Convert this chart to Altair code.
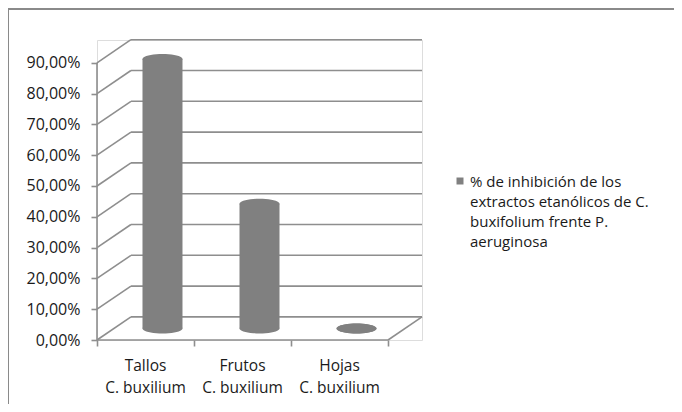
import altair as alt
import pandas as pd
import numpy as np

# ---- data ----
categories = ["Tallos", "Frutos", "Hojas"]
subtitles = ["C. buxilium", "C. buxilium", "C. buxilium"]
values = [87.5, 40.5, 0.0]          # % inhibition
y_ticks = [0, 10, 20, 30, 40, 50, 60, 70, 80, 90]
legend_text = "% de inhibición de los\nextractos etanólicos de C.\nbuxifolium frente P.\naeruginosa"

# ---- layout / style ----
PLOT_W, PLOT_H = 325, 300
N = len(categories)
DEPTH_X = 0.35      # depth offset in category units
DEPTH_Y = 7.5       # depth offset in percent units
Y_MAX = 97.4
X_MAX = N + DEPTH_X
PX_PER_UNIT = PLOT_W / X_MAX
CYL_W = 40
GRID = "#8e8e8e"
BAR = "#808080"
FONT = "Open Sans"
TXT = "#1a1a1a"
FS = 15.5

xs = alt.Scale(domain=[0, X_MAX], range=[0, PLOT_W], nice=False, zero=False)
ys = alt.Scale(domain=[0, Y_MAX], nice=False, zero=False)

Y_AX = alt.Axis(values=y_ticks, domain=False, grid=False, tickColor=GRID, tickWidth=1.6,
                tickSize=6, labelPadding=11, labelFont=FONT, labelFontSize=16,
                labelColor=TXT, title=None, labelOverlap=False, labelFlush=False,
                labelExpr="replace(format(datum.value, '.2f'), '.', ',') + '%'")
X_AX = alt.Axis(values=list(range(N + 1)), domain=False, grid=False, labels=False,
                tickColor=GRID, tickWidth=1.6, tickSize=6, title=None)

# 3D frame segments built from the tick values
segs = []
for v in y_ticks:
    segs.append(dict(x=0, y=v, x2=DEPTH_X, y2=v + DEPTH_Y))
    segs.append(dict(x=DEPTH_X, y=v + DEPTH_Y, x2=N + DEPTH_X, y2=v + DEPTH_Y))
segs.append(dict(x=0, y=0, x2=N, y2=0))
segs.append(dict(x=N, y=0, x2=N + DEPTH_X, y2=DEPTH_Y))
segs.append(dict(x=0, y=0, x2=0, y2=max(y_ticks)))
seg_df = pd.DataFrame(segs)

frame = alt.Chart(seg_df).mark_rule(color=GRID, strokeWidth=1.6).encode(
    x=alt.X("x:Q", scale=xs, axis=X_AX),
    y=alt.Y("y:Q", scale=ys, axis=Y_AX),
    x2="x2:Q", y2="y2:Q",
)

# cylinders
bar_df = pd.DataFrame({"cat": categories, "sub": subtitles, "val": values})
bar_df["i"] = range(N)
half = CYL_W / 2 / PX_PER_UNIT
base = alt.Chart(bar_df).transform_calculate(
    c="datum.i + 0.5 + %f" % (DEPTH_X / 2),
    xl="datum.i + 0.5 + %f - %f" % (DEPTH_X / 2, half),
    xr="datum.i + 0.5 + %f + %f" % (DEPTH_X / 2, half),
    b="%f" % (DEPTH_Y / 2),
    t="datum.val + %f" % (DEPTH_Y / 2),
    lc="datum.i + 0.5",
)

t = np.linspace(0, 2 * np.pi, 40, endpoint=False)
ell = "M " + " L ".join("%.3f %.3f" % (np.cos(a), 0.25 * np.sin(a)) for a in t) + " Z"

body = base.mark_rect(color=BAR).encode(
    x=alt.X("xl:Q", scale=xs, axis=X_AX), x2="xr:Q",
    y=alt.Y("b:Q", scale=ys, axis=Y_AX), y2="t:Q",
)
cap_top = base.mark_point(shape=ell, filled=True, color=BAR, opacity=1, size=CYL_W ** 2, strokeWidth=0).encode(
    x=alt.X("c:Q", scale=xs, axis=X_AX), y=alt.Y("t:Q", scale=ys, axis=Y_AX))
cap_bot = base.mark_point(shape=ell, filled=True, color=BAR, opacity=1, size=CYL_W ** 2, strokeWidth=0).encode(
    x=alt.X("c:Q", scale=xs, axis=X_AX), y=alt.Y("b:Q", scale=ys, axis=Y_AX))

lab1 = base.mark_text(font=FONT, fontSize=FS, color=TXT, baseline="middle").encode(
    x=alt.X("lc:Q", scale=xs, axis=X_AX), y=alt.value(PLOT_H + 26), text="cat:N")
lab2 = base.mark_text(font=FONT, fontSize=FS, color=TXT, baseline="middle").encode(
    x=alt.X("lc:Q", scale=xs, axis=X_AX), y=alt.value(PLOT_H + 48), text="sub:N")

# legend
leg_df = pd.DataFrame({"t": [legend_text]})
leg_sq = alt.Chart(leg_df).mark_square(color=BAR, filled=True, opacity=1, size=49).encode(
    x=alt.value(363), y=alt.value(141))
leg_tx = alt.Chart(leg_df).mark_text(font=FONT, fontSize=15, color=TXT, align="left",
                                     baseline="middle", lineBreak="\n", lineHeight=20).encode(
    x=alt.value(373), y=alt.value(142), text="t:N")

# outer border (top & left)
border_l = alt.Chart(leg_df).mark_rule(color="#8a8a8a", strokeWidth=2).encode(
    x=alt.value(-89), y=alt.value(-32), y2=alt.value(364))
border_t = alt.Chart(leg_df).mark_rule(color="#8a8a8a", strokeWidth=2).encode(
    x=alt.value(-89), x2=alt.value(577), y=alt.value(-31))

chart = alt.layer(frame, body, cap_bot, cap_top, lab1, lab2, leg_sq, leg_tx,
                  border_l, border_t).properties(
    width=PLOT_W, height=PLOT_H,
    autosize=alt.AutoSizeParams(type="none"),
    padding={"left": 89, "top": 32, "right": 252, "bottom": 64},
).configure_view(stroke=None).configure(background="white")

chart.save("out.html", embed_options={"renderer": "svg", "actions": False})
